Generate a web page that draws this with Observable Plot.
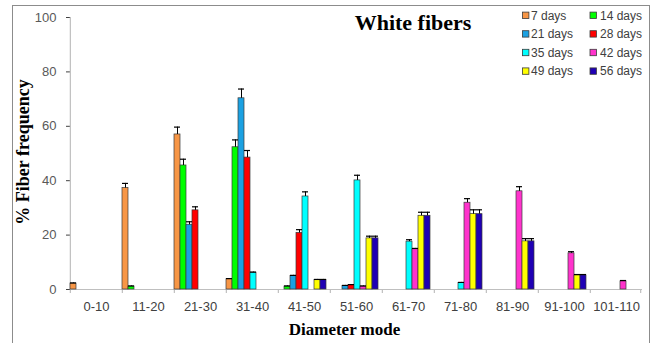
<!DOCTYPE html>
<html>
<head>
<meta charset="utf-8">
<script src="https://cdn.jsdelivr.net/npm/d3@7"></script>
<script src="https://cdn.jsdelivr.net/npm/@observablehq/plot@0.6"></script>
<style>
  body { margin: 0; background: #fff; }
  #wrap { position: relative; width: 651px; height: 343px; overflow: hidden; background: #fff; }
  #border { position: absolute; left: 12px; top: 5px; width: 636px; height: 400px; border: 1px solid #8c8c8c; box-sizing: content-box; }
  #chart { position: absolute; left: 0; top: 0; }
  #overlay { position: absolute; left: 0; top: 0; pointer-events: none; }
  #chart svg [aria-label="y-axis tick"] { stroke: #bfbfbf; }
  #chart svg [aria-label="y-axis tick label"] { fill: #595959; }
  #chart svg [aria-label="fx-axis tick label"] { fill: #404040; }
</style>
</head>
<body>
<div id="wrap">
  <div id="border"></div>
  <div id="chart"></div>
  <svg id="overlay" width="651" height="343"></svg>
</div>
<script>
// ---- data ----
const categories = ["0-10","11-20","21-30","31-40","41-50","51-60","61-70","71-80","81-90","91-100","101-110"];
const seriesNames = ["7 days","14 days","21 days","28 days","35 days","42 days","49 days","56 days"];
const seriesColors = ["#F79646","#00FF00","#1BA1E2","#FF0000","#00FFFF","#FF33CC","#FFFF00","#1F00B4"];
const yTicks = [0, 20, 40, 60, 80, 100];

const days7  = [2.2, 37.3, 57.0,  3.8,  0,    0,    0,    0,    0,    0,    0];
const days14 = [0,    1.1, 45.6, 52.3,  1.1,  0,    0,    0,    0,    0,    0];
const days21 = [0,    0,   23.8, 70.3,  5.0,  1.3,  0,    0,    0,    0,    0];
const days28 = [0,    0,   29.1, 48.5, 20.8,  1.6,  0,    0,    0,    0,    0];
const days35 = [0,    0,    0,    6.2, 34.2, 40.1, 17.6,  2.4,  0,    0,    0];
const days42 = [0,    0,    0,    0,    0,    1.1, 14.8, 31.9, 36.1, 13.3,  3.0];
const days49 = [0,    0,    0,    0,    3.5, 18.8, 27.1, 27.7, 17.7,  5.2,  0];
const days56 = [0,    0,    0,    0,    3.5, 18.8, 27.1, 27.7, 17.7,  5.2,  0];

const err7  = [0.2, 1.7, 2.7, 0.2, 0,   0,   0,   0,   0,   0,   0];
const err14 = [0,   0.2, 2.3, 2.7, 0.2, 0,   0,   0,   0,   0,   0];
const err21 = [0,   0,   1.1, 3.4, 0.2, 0.2, 0,   0,   0,   0,   0];
const err28 = [0,   0,   1.3, 2.6, 1.2, 0.2, 0,   0,   0,   0,   0];
const err35 = [0,   0,   0,   0.2, 1.7, 1.9, 0.7, 0.2, 0,   0,   0];
const err42 = [0,   0,   0,   0,   0,   0.2, 0.3, 1.5, 1.7, 0.6, 0.3];
const err49 = [0,   0,   0,   0,   0.2, 0.8, 1.3, 1.6, 1.0, 0.3, 0];
const err56 = [0,   0,   0,   0,   0.2, 0.8, 1.3, 1.6, 1.0, 0.3, 0];

const values = [days7, days14, days21, days28, days35, days42, days49, days56];
const errors = [err7, err14, err21, err28, err35, err42, err49, err56];

const rows = [];
categories.forEach((c, i) => {
  values.forEach((arr, j) => {
    if (arr[i] > 0) rows.push({cat: c, series: seriesNames[j], value: arr[i], err: errors[j][i]});
  });
});
const errRows = rows.filter(d => d.err > 0);

// ---- layout ----
const W = 651, H = 343, mL = 67, mR = 7, mT = 17, mB = 54;
const outerPad = 0.16;
const facetW = (W - mL - mR) / categories.length;
const bw = facetW / (seriesNames.length + 2 * outerPad);

const chart = Plot.plot({
  width: W, height: H,
  marginLeft: mL, marginRight: mR, marginTop: mT, marginBottom: mB,
  style: {fontFamily: "'Liberation Sans', Arial, sans-serif", fontSize: "13px", color: "#404040", background: "transparent"},
  fx: {domain: categories, padding: 0, axis: "bottom", tickSize: 0, tickPadding: 12, label: null},
  x: {domain: seriesNames, paddingInner: 0, paddingOuter: outerPad, align: 0, axis: null},
  y: {domain: [0, 100], ticks: yTicks, tickSize: 4, tickPadding: 10, label: null},
  color: {domain: seriesNames, range: seriesColors},
  marks: [
    Plot.ruleY([0], {stroke: "#bfbfbf", strokeWidth: 1.2}),
    // category boundary ticks
    Plot.ruleX(categories, {fx: d => d, x: () => seriesNames[0], dx: -bw / 2, y1: -1.5, y2: 0, stroke: "#bfbfbf", strokeWidth: 1.2}),
    Plot.ruleX([categories[categories.length - 1]], {fx: d => d, x: () => seriesNames[seriesNames.length - 1], dx: facetW - 7.5 * bw, y1: -1.5, y2: 0, stroke: "#bfbfbf", strokeWidth: 1.2}),
    // y axis line
    Plot.ruleX([categories[0]], {fx: d => d, x: () => seriesNames[0], dx: -bw / 2, y1: 0, y2: 100, stroke: "#bfbfbf", strokeWidth: 1.2}),
    Plot.barY(rows, {fx: "cat", x: "series", y: "value", fill: "series", stroke: "#3a3a3a", strokeWidth: 0.7}),
    Plot.ruleX(errRows, {fx: "cat", x: "series", y1: "value", y2: d => d.value + d.err, stroke: "#000", strokeWidth: 1}),
    Plot.tickY(errRows, {fx: "cat", x: "series", y: d => d.value + d.err, stroke: "#000", strokeWidth: 1.2})
  ]
});
document.getElementById("chart").appendChild(chart);

// ---- titles & legend ----
const ov = d3.select("#overlay");
const serif = "'Liberation Serif', 'Times New Roman', serif";
ov.append("text").attr("x", 413).attr("y", 30).attr("text-anchor", "middle")
  .style("font-family", serif).style("font-weight", "bold").style("font-size", "22px").attr("fill", "#000")
  .text("White fibers");
ov.append("text").attr("x", 344.5).attr("y", 335).attr("text-anchor", "middle")
  .style("font-family", serif).style("font-weight", "bold").style("font-size", "17px").attr("fill", "#000")
  .text("Diameter mode");
ov.append("text").attr("transform", "translate(29,152) rotate(-90)").attr("text-anchor", "middle")
  .style("font-family", serif).style("font-weight", "bold").style("font-size", "18px").attr("fill", "#000")
  .text("% Fiber frequency");

const legX = [522.5, 590], legTextX = [531, 600], legY0 = 15.3, legDY = 18.6;
seriesNames.forEach((s, i) => {
  const col = i % 2, row = Math.floor(i / 2);
  const cy = legY0 + row * legDY;
  ov.append("rect").attr("x", legX[col]).attr("y", cy - 3.2).attr("width", 6.4).attr("height", 6.4)
    .attr("fill", seriesColors[i]).attr("stroke", "#3a3a3a").attr("stroke-width", 0.8);
  ov.append("text").attr("x", legTextX[col]).attr("y", cy + 4.3)
    .style("font-family", "'Liberation Sans', Arial, sans-serif").style("font-size", "12px").attr("fill", "#404040")
    .text(s);
});
</script>
</body>
</html>
